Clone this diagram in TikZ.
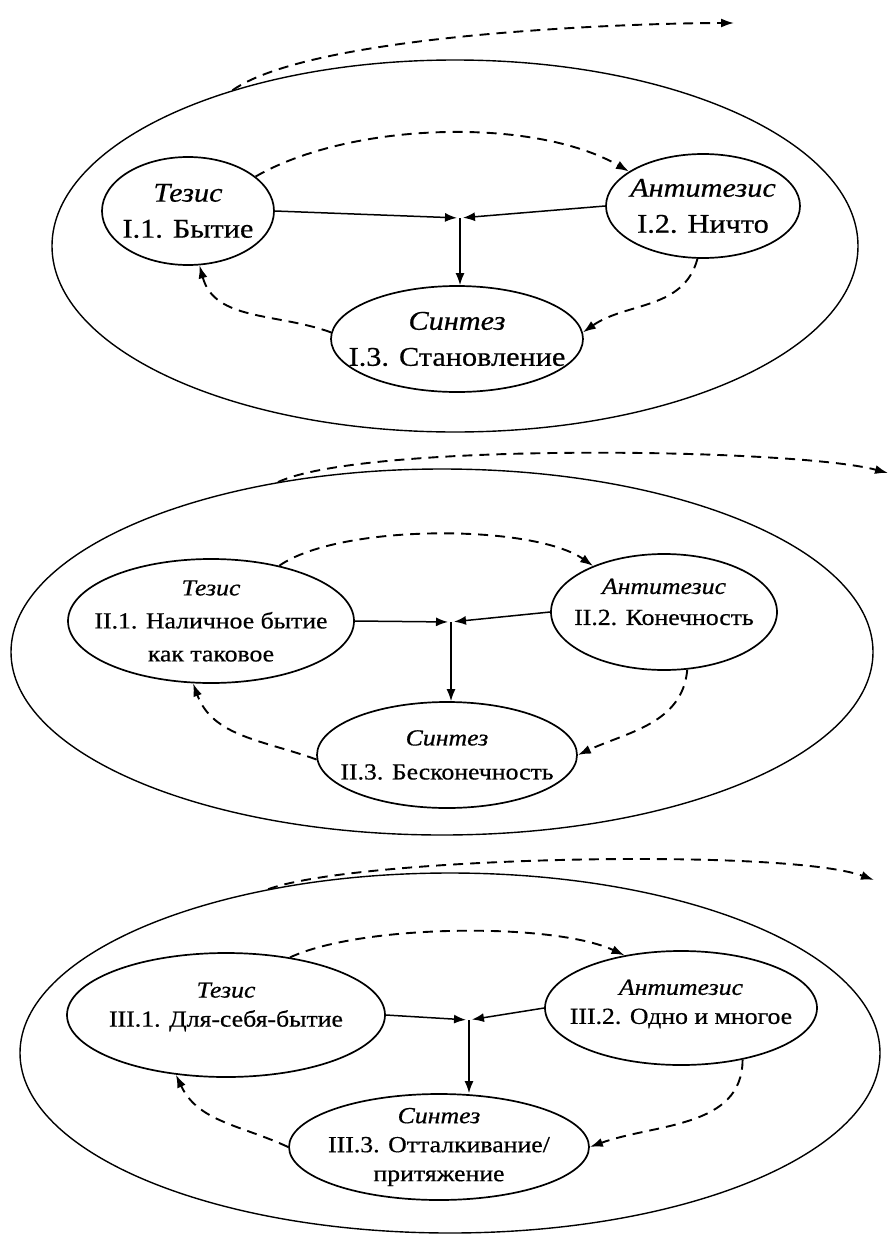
\documentclass[tikz,border=0pt]{standalone}
\usepackage{fontspec}
\setmainfont[FakeStretch=1.12,FakeBold=0.6]{Liberation Serif}
\usetikzlibrary{shapes,arrows.meta,positioning}

\tikzset{
	frame/.style={draw,ellipse,line width=1.4pt,inner sep=0pt},
	cell/.style={draw,ellipse,line width=1.7pt,inner sep=0pt},
	lbl/.style={align=center,font=\fontsize{23}{31}\selectfont},
	biglbl/.style={align=center,font=\fontsize{27}{36}\selectfont},
	flow/.style={line width=1.5pt,-{Latex[length=12pt,width=9pt]}},
	back/.style={line width=1.9pt,dash pattern=on 10pt off 7pt,-{Latex[length=13pt,width=9pt]}}
}

\begin{document}
\begin{tikzpicture}
	\useasboundingbox (0,0) rectangle (894pt,-1234pt);
	\begin{scope}[x=1pt,y=1pt]
		\node[frame,minimum width=806,minimum height=372] (o1) at (455,-246) {};
		\node[cell,minimum width=172,minimum height=108,label={[biglbl]center:{\textit{Тезис}\\I.1. Бытие}}] (t1) at (188,-211) {};
		\node[cell,minimum width=194,minimum height=104,label={[biglbl]center:{\textit{Антитезис}\\I.2. Ничто}}] (a1) at (703,-206) {};
		\node[cell,minimum width=252,minimum height=106,label={[biglbl]center:{\textit{Синтез}\\I.3. Становление}}] (s1) at (457,-339) {};
		\coordinate (j1) at (460,-218);
		\coordinate (e1) at (734,-23);

		\draw[flow,shorten >=3pt] (t1.east) -- (j1);
		\draw[flow,shorten >=3pt] (a1.west) -- (j1);
		\draw[flow] (j1) -- (j1 |- s1.north);
		\draw[back] (t1.27) to[out=30,in=150,looseness=0.75] (a1.155);
		\draw[back] (a1.264) to[out=-105,in=35] (s1.3);
		\draw[back] (s1.177) to[out=160,in=-75] (t1.282);
		\draw[back] (o1.145) to[out=35,in=180,looseness=0.5] (e1);

		\node[frame,minimum width=862,minimum height=366] (o2) at (442,-652) {};
		\node[cell,minimum width=286,minimum height=124,label={[lbl,font=\fontsize{23}{33}\selectfont]center:{\textit{Тезис}\\II.1. Наличное бытие\\как таковое}}] (t2) at (211,-621) {};
		\node[cell,minimum width=226,minimum height=116,label={[lbl,yshift=10pt]center:{\textit{Антитезис}\\II.2. Конечность}}] (a2) at (664,-612) {};
		\node[cell,minimum width=260,minimum height=106,label={[lbl,font=\fontsize{23}{34}\selectfont]center:{\textit{Синтез}\\II.3. Бесконечность}}] (s2) at (447,-755) {};
		\coordinate (j2) at (451,-622);
		\coordinate (e2) at (888,-473);

		\draw[flow,shorten >=3pt] (t2.east) -- (j2);
		\draw[flow,shorten >=3pt] (a2.west) -- (j2);
		\draw[flow] (j2) -- (j2 |- s2.north);
		\draw[back] (t2.39) to[out=35,in=145,looseness=0.6] (a2.147);
		\draw[back] (a2.292) to[out=-95,in=25] (s2.0);
		\draw[back] (s2.182) to[out=160,in=-70] (t2.254);
		\draw[back] (o2.134) to[out=25,in=165,looseness=0.4] (e2);

		\node[frame,minimum width=860,minimum height=360] (o3) at (450,-1053) {};
		\node[cell,minimum width=318,minimum height=124,label={[lbl,font=\fontsize{23}{29}\selectfont,yshift=8pt]center:{\textit{Тезис}\\III.1. Для-себя-бытие}}] (t3) at (226,-1015) {};
		\node[cell,minimum width=272,minimum height=114,label={[lbl,font=\fontsize{23}{29}\selectfont,yshift=4pt]center:{\textit{Антитезис}\\III.2. Одно и многое}}] (a3) at (681,-1008) {};
		\node[cell,minimum width=300,minimum height=106,label={[lbl,font=\fontsize{23}{29}\selectfont]center:{\textit{Синтез}\\III.3. Отталкивание/\\притяжение}}] (s3) at (439,-1147) {};
		\coordinate (j3) at (469,-1020);
		\coordinate (e3) at (874,-880);

		\draw[flow,shorten >=3pt] (t3.east) -- (j3);
		\draw[flow,shorten >=3pt] (a3.west) -- (j3);
		\draw[flow] (j3) -- (j3 |- s3.north);
		\draw[back] (t3.42) to[out=25,in=155,looseness=0.6] (a3.137);
		\draw[back] (a3.-40) to[out=-90,in=20] (s3.0);
		\draw[back] (s3.180) to[out=155,in=-65] (t3.230);
		\draw[back] (o3.138) to[out=20,in=160,looseness=0.4] (e3);
	\end{scope}
\end{tikzpicture}
\end{document}
